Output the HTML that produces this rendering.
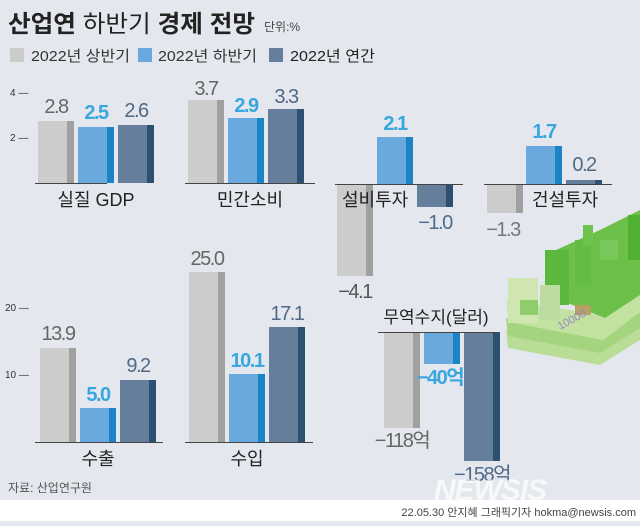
<!DOCTYPE html>
<html><head><meta charset="utf-8"><style>
html,body{margin:0;padding:0}
body{width:640px;height:521px;background:#e4e8ee;overflow:hidden;font-family:"Liberation Sans","Noto Sans CJK KR",sans-serif}
svg text{font-family:"Liberation Sans","Noto Sans CJK KR",sans-serif}
</style></head><body>
<svg width="640" height="521" viewBox="0 0 640 521" xmlns="http://www.w3.org/2000/svg">
<rect x="0" y="0" width="640" height="500" fill="#e4e8ee"/>
<rect x="0" y="500" width="640" height="21" fill="#ffffff"/>
<!-- title -->
<text x="8" y="32" font-size="24" font-weight="bold" fill="#222" textLength="247" lengthAdjust="spacingAndGlyphs">산업연 <tspan font-weight="normal">하반기</tspan> 경제 전망</text>
<text x="264" y="31" font-size="12" fill="#444">단위:%</text>
<!-- legend -->
<rect x="10" y="48" width="14" height="14" fill="#cccccc"/>
<text x="31" y="61" font-size="15" fill="#333" textLength="99" lengthAdjust="spacingAndGlyphs">2022년 상반기</text>
<rect x="138" y="48" width="14" height="14" fill="#6aa9dd"/>
<text x="158" y="61" font-size="15" fill="#333" textLength="99" lengthAdjust="spacingAndGlyphs">2022년 하반기</text>
<rect x="269" y="48" width="14" height="14" fill="#647e9b"/>
<text x="290" y="61" font-size="15" fill="#222" textLength="85" lengthAdjust="spacingAndGlyphs">2022년 연간</text>

<!-- illustration -->
<g>
<polygon points="506,330 600,345 640,320 640,340 600,365 508,348" fill="#b9dc96"/>
<polygon points="506,318 600,333 640,308 640,328 600,353 508,336" fill="#a5d47e"/>
<polygon points="507,300 600,315 640,290 640,312 603,340 508,322" fill="#c3e2a2"/>
<polygon points="545,255 600,230 640,210 640,295 605,318 560,300" fill="#6cc04a"/>
<rect x="545" y="250" width="24" height="55" fill="#5cb83c"/>
<rect x="575" y="240" width="16" height="45" fill="#64bc44"/>
<rect x="583" y="225" width="10" height="20" fill="#70c24e"/>
<rect x="628" y="215" width="12" height="45" fill="#4fb032"/>
<rect x="600" y="240" width="18" height="20" fill="#7ac85a"/>
<rect x="508" y="278" width="30" height="45" fill="#cfe6b0"/>
<rect x="540" y="285" width="20" height="35" fill="#bddda0"/>
<rect x="520" y="300" width="18" height="15" fill="#8fcc6c"/>
<rect x="575" y="305" width="16" height="10" fill="#b7a064"/>
<text x="560" y="330" font-size="11" fill="#9a88c0" transform="rotate(-28 560 330)">10000</text>
</g>

<g font-size="20" letter-spacing="-1.5">
<line x1="35" y1="183.5" x2="107" y2="183.5" stroke="#444"/>
<line x1="185" y1="183.5" x2="315" y2="183.5" stroke="#444"/>
<text x="10" y="96" font-size="10" letter-spacing="0" fill="#333">4 —</text>
<text x="10" y="141" font-size="10" letter-spacing="0" fill="#333">2 —</text>
<rect x="38" y="121" width="29" height="62" fill="#cccccc"/><rect x="67" y="121" width="7" height="62" fill="#a0a0a0"/>
<rect x="78" y="127" width="29" height="56" fill="#6aa9dd"/><rect x="107" y="127" width="7" height="56" fill="#1a84c7"/>
<rect x="118" y="125" width="29" height="58" fill="#647e9b"/><rect x="147" y="125" width="7" height="58" fill="#2c5170"/>
<text x="56" y="113" text-anchor="middle" fill="#666">2.8</text>
<text x="96" y="119" text-anchor="middle" fill="#3aa6e0" font-weight="bold">2.5</text>
<text x="136" y="117" text-anchor="middle" fill="#4f6986">2.6</text>
<text x="96" y="206" text-anchor="middle" font-size="18" letter-spacing="0" fill="#222">실질 GDP</text>

<rect x="188" y="100" width="29" height="83" fill="#cccccc"/><rect x="217" y="100" width="7" height="83" fill="#a0a0a0"/>
<rect x="228" y="118" width="29" height="65" fill="#6aa9dd"/><rect x="257" y="118" width="7" height="65" fill="#1a84c7"/>
<rect x="268" y="109" width="29" height="74" fill="#647e9b"/><rect x="297" y="109" width="7" height="74" fill="#2c5170"/>
<text x="206" y="95" text-anchor="middle" fill="#666">3.7</text>
<text x="246" y="112" text-anchor="middle" fill="#3aa6e0" font-weight="bold">2.9</text>
<text x="286" y="103" text-anchor="middle" fill="#4f6986">3.3</text>
<text x="250" y="206" text-anchor="middle" font-size="18" letter-spacing="0" fill="#222">민간소비</text>

<rect x="337" y="184" width="29" height="92" fill="#cccccc"/><rect x="366" y="184" width="7" height="92" fill="#a0a0a0"/>
<rect x="377" y="137" width="29" height="47" fill="#6aa9dd"/><rect x="406" y="137" width="7" height="47" fill="#1a84c7"/>
<rect x="417" y="184" width="29" height="23" fill="#647e9b"/><rect x="446" y="184" width="7" height="23" fill="#2c5170"/>
<line x1="335" y1="184.5" x2="463" y2="184.5" stroke="#444"/>
<text x="395" y="130" text-anchor="middle" fill="#3aa6e0" font-weight="bold">2.1</text>
<text x="435" y="229" text-anchor="middle" fill="#4f6986">−1.0</text>
<text x="355" y="298" text-anchor="middle" fill="#555">−4.1</text>
<text x="342" y="206" font-size="18" letter-spacing="0" fill="#222">설비투자</text>

<rect x="487" y="184" width="29" height="29" fill="#cccccc"/><rect x="516" y="184" width="7" height="29" fill="#a0a0a0"/>
<rect x="526" y="146" width="29" height="38" fill="#6aa9dd"/><rect x="555" y="146" width="7" height="38" fill="#1a84c7"/>
<rect x="566" y="180" width="29" height="4" fill="#647e9b"/><rect x="595" y="180" width="7" height="4" fill="#2c5170"/>
<line x1="484" y1="184.5" x2="612" y2="184.5" stroke="#444"/>
<text x="544" y="138" text-anchor="middle" fill="#3aa6e0" font-weight="bold">1.7</text>
<text x="584" y="171" text-anchor="middle" fill="#4f6986">0.2</text>
<text x="503" y="236" text-anchor="middle" fill="#777">−1.3</text>
<text x="532" y="206" font-size="18" letter-spacing="0" fill="#222">건설투자</text>

<text x="5" y="311" font-size="10" letter-spacing="0" fill="#333">20 —</text>
<text x="5" y="378" font-size="10" letter-spacing="0" fill="#333">10 —</text>
<rect x="40" y="348" width="29" height="94" fill="#cccccc"/><rect x="69" y="348" width="7" height="94" fill="#a0a0a0"/>
<rect x="80" y="408" width="29" height="34" fill="#6aa9dd"/><rect x="109" y="408" width="7" height="34" fill="#1a84c7"/>
<rect x="120" y="380" width="29" height="62" fill="#647e9b"/><rect x="149" y="380" width="7" height="62" fill="#2c5170"/>
<line x1="35" y1="442.5" x2="163" y2="442.5" stroke="#444"/>
<text x="58" y="340" text-anchor="middle" fill="#666">13.9</text>
<text x="98" y="401" text-anchor="middle" fill="#3aa6e0" font-weight="bold">5.0</text>
<text x="138" y="372" text-anchor="middle" fill="#4f6986">9.2</text>
<text x="98" y="465" text-anchor="middle" font-size="18" letter-spacing="0" fill="#222">수출</text>

<rect x="189" y="272" width="29" height="170" fill="#cccccc"/><rect x="218" y="272" width="7" height="170" fill="#a0a0a0"/>
<rect x="229" y="374" width="29" height="68" fill="#6aa9dd"/><rect x="258" y="374" width="7" height="68" fill="#1a84c7"/>
<rect x="269" y="327" width="29" height="115" fill="#647e9b"/><rect x="298" y="327" width="7" height="115" fill="#2c5170"/>
<line x1="185" y1="442.5" x2="313" y2="442.5" stroke="#444"/>
<text x="207" y="265" text-anchor="middle" fill="#666">25.0</text>
<text x="247" y="367" text-anchor="middle" fill="#3aa6e0" font-weight="bold">10.1</text>
<text x="287" y="320" text-anchor="middle" fill="#4f6986">17.1</text>
<text x="247" y="465" text-anchor="middle" font-size="18" letter-spacing="0" fill="#222">수입</text>

<rect x="384" y="332" width="29" height="96" fill="#cccccc"/><rect x="413" y="332" width="7" height="96" fill="#a0a0a0"/>
<rect x="424" y="332" width="29" height="32" fill="#6aa9dd"/><rect x="453" y="332" width="7" height="32" fill="#1a84c7"/>
<rect x="464" y="332" width="29" height="129" fill="#647e9b"/><rect x="493" y="332" width="7" height="129" fill="#2c5170"/>
<line x1="378" y1="332.5" x2="497" y2="332.5" stroke="#444"/>
<text x="436" y="323" text-anchor="middle" font-size="17" letter-spacing="0" fill="#222">무역수지(달러)</text>
<text x="402" y="447" text-anchor="middle" fill="#666">−118억</text>
<text x="440" y="384" text-anchor="middle" fill="#3aa6e0" font-weight="bold">−40억</text>
<text x="482" y="481" text-anchor="middle" fill="#4f6986">−158억</text>
</g>

<text x="8" y="492" font-size="12" fill="#555">자료: 산업연구원</text>
<text x="490" y="500" font-size="30" font-style="italic" font-weight="bold" fill="#ffffff" opacity="0.7" text-anchor="middle" letter-spacing="-1">NEWSIS</text>
<text x="636" y="516" font-size="11" fill="#444" text-anchor="end">22.05.30 안지혜 그래픽기자 hokma@newsis.com</text>
</svg>
</body></html>
